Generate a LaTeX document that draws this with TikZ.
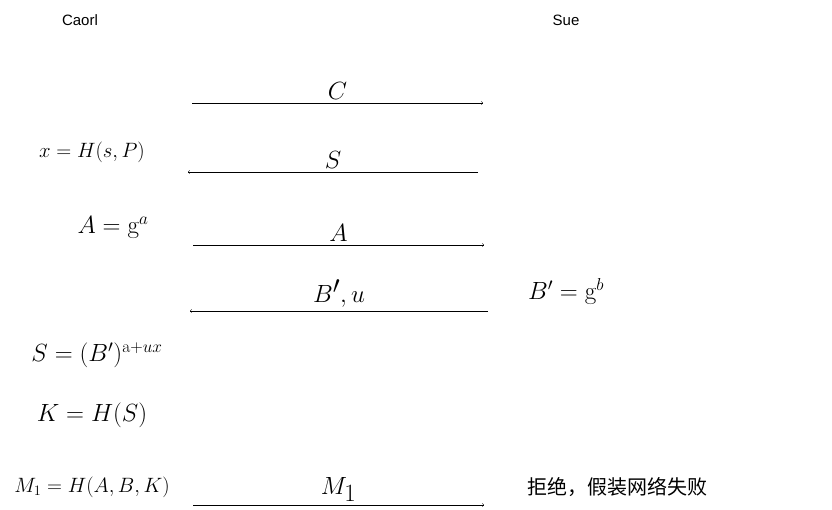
\documentclass[tikz,border=0pt]{standalone}
\usepackage{fontspec}
\setsansfont{Liberation Sans}
\newfontfamily\cjk{Noto Sans CJK SC}
\usetikzlibrary{positioning}
\begin{document}
\begin{tikzpicture}[x=1pt,y=-1pt,
	Party/.style={font=\sffamily\fontsize{15}{18}\selectfont},
	Calc/.style={font=\fontsize{21}{25}\selectfont},
	Msg/.style={font=\fontsize{36}{40}\selectfont},
	Flow/.style={->, thin}]
	\useasboundingbox (0,0) rectangle (832,510);
	\node[Party] (caorl) at (80,20) {Caorl};
	\node[Party] (sue) at (566,20) {Sue};
	% messages
	\coordinate (c1) at (192,103); \coordinate (c2) at (483,103);
	\draw[Flow] (c1) to node[Msg, above=0pt] (mC) {$C$} (c2);
	\coordinate (s1) at (478,172); \coordinate (s2) at (188,172);
	\draw[Flow] (s1) to node[Msg, above=0pt] (mS) {$S$} (s2);
	\coordinate (a1) at (193,245); \coordinate (a2) at (484,245);
	\draw[Flow] (a1) to node[Msg, above=0pt] (mA) {$A$} (a2);
	\coordinate (b1) at (488,311); \coordinate (b2) at (190,311);
	\draw[Flow] (b1) to node[Msg, above=0pt] (mB) {$B',u$} (b2);
	\coordinate (m1) at (193,505); \coordinate (m2) at (484,505);
	\draw[Flow] (m1) to node[Msg, above=0pt] (mM) {$M_1$} (m2);
	% computations
	\node[Calc] (cx) at (92,152) {$x=H(s,P)$};
	\node[Calc, font=\fontsize{25}{30}\selectfont] (cA) at (113,228) {$A=\mathrm{g}^a$};
	\node[Calc, font=\fontsize{25}{30}\selectfont] (cB) at (566,292) {$B'=\mathrm{g}^b$};
	\node[Calc, font=\fontsize{25}{30}\selectfont] (cS) at (97,355) {$S=(B')^{\mathrm{a}+ux}$};
	\node[Calc, font=\fontsize{25}{30}\selectfont] (cK) at (92,415) {$K=H(S)$};
	\node[Calc] (cM) at (92,487) {$M_1=H(A,B,K)$};
	\node[font=\cjk\fontsize{20}{24}\selectfont] (deny) at (617,487) {拒绝，假装网络失败};
\end{tikzpicture}
\end{document}
